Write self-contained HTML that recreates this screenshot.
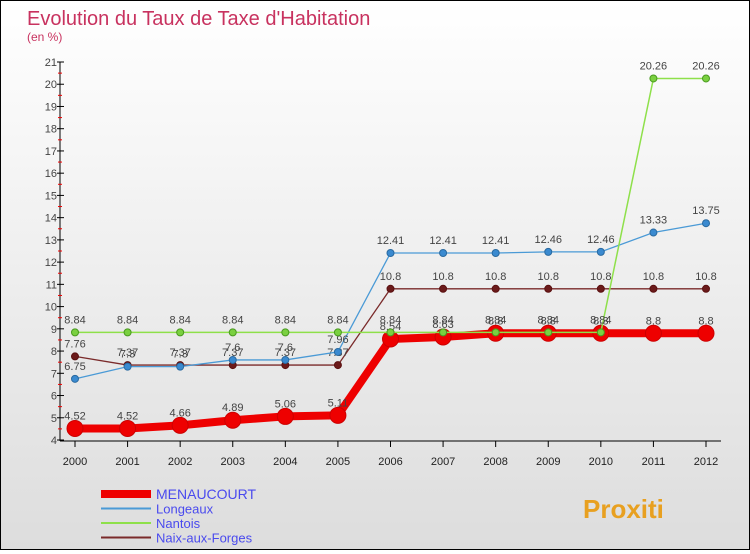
<!DOCTYPE html>
<html><head><meta charset="utf-8"><style>
body{margin:0}
#c{width:748px;height:548px;border:1px solid #000;background:linear-gradient(#fff,#ddd);position:relative;font-family:"Liberation Sans",sans-serif}
</style></head><body>
<div id="c">
<svg id="s" width="748" height="548" xmlns="http://www.w3.org/2000/svg">
<text x="26" y="24" font-size="20" fill="#c8325f">Evolution du Taux de Taxe d'Habitation</text>
<text x="26" y="40" font-size="12" fill="#c8325f">(en %)</text>
</svg>
</div>
<script>
const years=[2000,2001,2002,2003,2004,2005,2006,2007,2008,2009,2010,2011,2012];
const menaucourt=[4.52,4.52,4.66,4.89,5.06,5.11,8.54,8.63,8.8,8.8,8.8,8.8,8.8];
const longeaux=[6.75,7.3,7.3,7.6,7.6,7.96,12.41,12.41,12.41,12.46,12.46,13.33,13.75];
const nantois=[8.84,8.84,8.84,8.84,8.84,8.84,8.84,8.84,8.84,8.84,8.84,20.26,20.26];
const naix=[7.76,7.37,7.37,7.37,7.37,7.37,10.8,10.8,10.8,10.8,10.8,10.8,10.8];
const yTicks=[4,5,6,7,8,9,10,11,12,13,14,15,16,17,18,19,20,21];
const s=document.getElementById('s');const NS='http://www.w3.org/2000/svg';
const X=i=>74+i*(705-74)/12, Y=v=>439-(v-4)*(439-61)/17;
function el(t,a,p){const e=document.createElementNS(NS,t);for(const k in a)e.setAttribute(k,a[k]);(p||s).appendChild(e);return e;}
let ax=el('line',{x1:59,y1:Y(21),x2:59,y2:440,stroke:'#000'});


let xa=el('line',{x1:59,y1:440,x2:720,y2:440,stroke:'#000'});


yTicks.forEach(v=>{
 el('line',{x1:56,x2:63,y1:Y(v),y2:Y(v),stroke:'#000'});
 if(v<21)el('line',{x1:57,x2:61,y1:Y(v+0.5),y2:Y(v+0.5),stroke:'#e00'});
 const t=el('text',{x:56,y:Y(v)+4,'font-size':11,'text-anchor':'end',fill:'#444'});t.textContent=v;
 
 
});
years.forEach((y,i)=>{
 el('line',{x1:X(i),x2:X(i),y1:440,y2:446,stroke:'#000'});
 const t=el('text',{x:X(i),y:464,'font-size':11,'text-anchor':'middle',fill:'#222'});t.textContent=y;
 
 
});
function series(d,col,w,r,dot,stroke,name){
 const g=el('g',{});
 
 
 el('polyline',{points:d.map((v,i)=>X(i)+','+Y(v)).join(' '),fill:'none',stroke:col,'stroke-width':w},g);
 d.forEach((v,i)=>{el('circle',{cx:X(i),cy:Y(v),r:r,fill:dot,stroke:stroke,'stroke-width':1},g);
  const t=el('text',{x:X(i),y:Y(v)-9,'font-size':11,'text-anchor':'middle',fill:'#444'},g);t.textContent=v;});
}
series(naix,'#7a2a2a',1.3,3.5,'#6b1a1a','#5a1010','series-naix-aux-forges');
series(longeaux,'#4a9ad6',1.3,3.5,'#3a8ad0','#2a6aa0','series-longeaux');
series(menaucourt,'#ee0000',8,8,'#ee0000','#c00','series-menaucourt');
series(nantois,'#8ee04a',1.5,3.5,'#7ad040','#4a9a20','series-nantois');
const leg=[['MENAUCOURT','#ee0000',8],['Longeaux','#4a9ad6',2],['Nantois','#8ee04a',2],['Naix-aux-Forges','#7a2a2a',2]];
leg.forEach((l,i)=>{const y=493+i*14.5;
 el('line',{x1:100,x2:150,y1:y,y2:y,stroke:l[1],'stroke-width':l[2]});
 const t=el('text',{x:155,y:y+5,'font-size':i==0?14:13,fill:'#4a4aee'});t.textContent=l[0];
 
 
});
const p=el('text',{x:582,y:517,'font-size':26,'font-weight':'bold',fill:'#e8a020'});p.textContent='Proxiti';


</script>
</body></html>
